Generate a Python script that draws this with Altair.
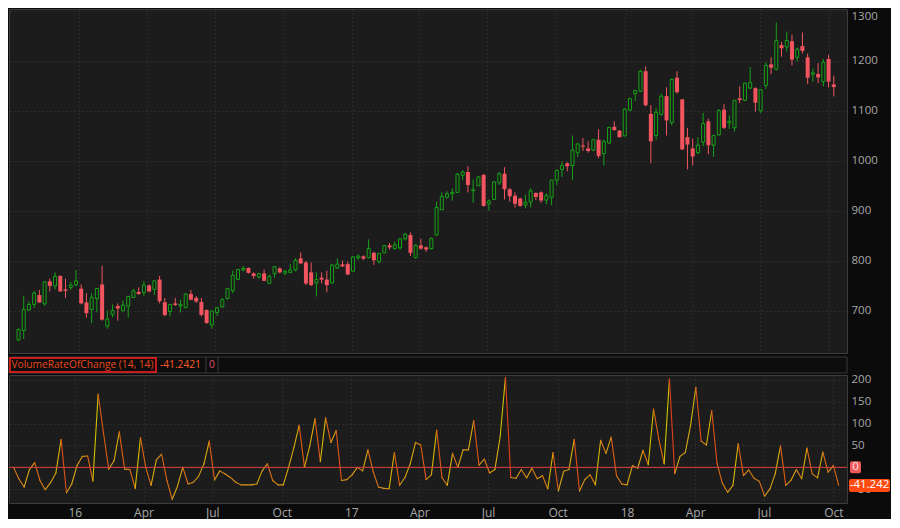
import altair as alt
import pandas as pd

# ---------------- data (weekly candles) ----------------
first_week = "2015-10-12"
opens = [642, 661, 702, 713, 731.6, 714, 759, 750, 770, 743, 747, 752, 744.5, 717, 703, 724.5, 752.9, 669.7, 693, 709.7,
         700, 709.7, 727, 738, 737, 751, 743, 762.6, 717.4, 698.7, 715, 709.7, 706.5, 734, 726, 718, 702, 672, 697, 708,
         724.5, 741, 763, 782, 785.8, 775, 767.7, 775, 755, 774.5, 785, 775.5, 777, 782, 805, 796.8, 777, 756, 766.5, 762.6,
         756, 785.8, 792.9, 793.5, 779.4, 806.5, 809, 806.5, 816, 798, 816, 831, 824.5, 826, 844, 851.6, 806.5, 831, 827, 824.5,
         851.6, 902, 927, 934, 936.8, 971, 977.4, 940, 950, 971.6, 914, 922.6, 956, 974, 943, 930, 924.5, 911.6, 917.4, 935.5,
         936.8, 921.3, 927, 961.3, 982.6, 994.8, 990.3, 1016, 1030.3, 1024.5, 1021.3, 1042, 1014.2, 1035.5, 1067.7, 1060, 1049.7, 1101, 1134, 1138.7,
         1178.7, 1093.5, 1050.3, 1092.3, 1129, 1076, 1165.8, 1122.6, 1047.1, 1024.5, 1016, 1037.4, 1078.7, 1030.9, 1051.6, 1101.9, 1075.5, 1065.8, 1124.5, 1120.6,
         1145, 1145, 1100, 1150.3, 1192.3, 1182.6, 1231, 1227, 1238.7, 1206.5, 1229, 1206.5, 1172.9, 1173, 1158, 1203.2, 1152.3]
highs = [665, 730, 719, 740, 742, 759, 764.5, 777, 771, 764.5, 758, 782, 753, 735.5, 735.5, 745, 790, 701, 713, 715,
         721, 729, 744, 747, 759, 753, 761, 770, 726, 713, 726, 722.6, 735.5, 742, 730, 726, 703, 700, 707.7, 726,
         744.5, 780.6, 784, 790, 787, 777, 775.5, 783, 773, 790, 787, 782, 793.5, 805, 817, 800, 796.8, 777, 777, 780.6,
         793.5, 805, 800.6, 798.7, 809.7, 812.9, 811, 843, 818, 814.8, 832, 835.5, 838.7, 845, 855, 857, 833.5, 844, 829, 846.5,
         918, 936.8, 938.7, 945, 975.5, 980.6, 989, 962.6, 969, 974, 922.6, 958, 977.4, 987, 945, 936.8, 925.8, 932, 945, 936.8,
         938.7, 935.5, 961.3, 982.6, 998.7, 996.8, 1050.3, 1035.5, 1045, 1038.7, 1043, 1063, 1042, 1067.7, 1078.7, 1061.3, 1105, 1125.8, 1142, 1181.9,
         1188.4, 1110.9, 1105, 1134, 1146.5, 1164.5, 1178.7, 1122.6, 1065.8, 1043.9, 1047, 1095.5, 1083.9, 1050.3, 1103.2, 1112.9, 1090.3, 1120.6, 1148.4, 1156,
         1187, 1146.5, 1141.9, 1196.8, 1206.5, 1276, 1237.4, 1258, 1251.6, 1225.8, 1256, 1214.2, 1183.9, 1195, 1203.2, 1211.6, 1169.7]
lows = [640, 644, 700, 706, 716, 711, 739, 743, 738, 726, 742, 749, 713, 687, 676, 697, 680.6, 664.5, 687, 680.6,
        700, 687, 727, 732, 729, 737, 732, 715, 689, 689, 710, 697, 706.5, 721, 716, 689, 674, 664.5, 690, 706.5,
        723, 735.5, 763, 779, 774.5, 764.5, 764.5, 760, 755, 766.5, 775, 771, 775.5, 779, 793.5, 751.6, 749.7, 729, 755, 737.4,
        755, 784, 787.7, 771, 777.4, 801.9, 801.9, 805, 792, 795, 816, 822.6, 822.6, 822.6, 840.6, 809.7, 804.5, 822.6, 818, 822.6,
        850, 902, 924.5, 920, 935.5, 961.3, 936.8, 916, 949.7, 908.4, 900, 922, 951.6, 922.6, 918, 906.5, 908.4, 905.2, 906.5, 921.3,
        916, 913, 911, 951.6, 967.7, 979, 961.3, 1007.7, 1019.4, 1016, 1019, 1005, 990.3, 1033.5, 1060, 1046.5, 1048.4, 1099, 1119.4, 1136.8,
        1108.4, 994.8, 1042, 1090.3, 1050.3, 1071, 1134.2, 1021.3, 982.6, 990.3, 1012.9, 1029, 1012.9, 1007.7, 1050.3, 1063.2, 1063.2, 1058, 1115, 1119.4,
        1143.2, 1098, 1095.5, 1143.2, 1172.9, 1180.6, 1207.7, 1218, 1190.3, 1198, 1214.2, 1153.5, 1158, 1154.8, 1148.4, 1146.5, 1128.4]
closes = [663, 703, 713, 735.5, 717, 758, 750, 769, 739, 740, 751.6, 760, 715, 695.5, 727, 745, 682.6, 684, 701, 705,
          711.6, 729, 740, 734, 751.6, 739, 760, 719.4, 692, 713, 712, 713, 733.5, 722.6, 719, 692, 676, 700, 706.5, 722.6,
          744.5, 771, 782.6, 785, 776, 770, 774.5, 760, 769, 788.4, 777, 779.4, 782, 801.3, 795, 754.8, 751.6, 762.6, 762.6, 751.6,
          791.6, 793.5, 789, 773, 807.7, 809.7, 804.5, 824.5, 801.3, 814.8, 830.3, 827, 832, 844, 853.5, 816, 831, 824.5, 822.6, 845,
          906.5, 929, 934, 936.8, 973, 977.4, 951.6, 942, 967.7, 909.7, 919.4, 958, 974, 943, 929, 914, 909.7, 917.4, 940, 927.7,
          920.6, 930.3, 961.3, 980.6, 990.3, 989, 1021.3, 1033.5, 1028, 1019.4, 1042, 1009.7, 1038.7, 1066.5, 1061.3, 1047, 1103, 1123.9, 1140, 1178.7,
          1110.9, 1038.7, 1096.8, 1129, 1080.6, 1162.6, 1136.8, 1022.6, 1032.3, 1008.4, 1030.9, 1074.2, 1030.9, 1050.3, 1100, 1065.8, 1078.7, 1120.6, 1121.3, 1154.8,
          1156, 1116, 1141.9, 1190.3, 1185.8, 1240, 1224.5, 1240, 1201.9, 1222.6, 1219.4, 1165.8, 1175.5, 1166.5, 1196.8, 1158, 1147]
vroc = [0, -26, -45, -5, 11, -30, -51, -35, -13, 64, -58, -38, 4, 25, 26, -31, 167, 79, -4, 15,
        81, -4, -5, -48, 68, 0, -41, 17, 30, -30, -73, -43, 0, -38, -34, -20, 8, 60, -29, -8,
        -15, -23, -34, -40, -40, -40, -38, -8, 8, -30, -40, -40, 0, 45, 96, 0, 49, 111, 13, 113,
        57, 84, -30, -28, -17, 0, -8, 40, -10, -45, -48, -49, 34, -41, -23, 8, 57, 51, -28, -17,
        85, -23, -41, 32, 0, 40, 40, 107, 5, 19, -13, -5, 70, 206, -23, -25, -5, -24, -2, -26,
        -19, -49, 34, -54, -9, -5, 64, -54, -28, -17, -40, 62, 32, 69, -19, -38, -40, 4, -2, 39,
        6, 133, 64, 8, 202, -14, 25, 34, 96, 183, 60, 51, 130, 9, -36, -57, -41, 54, -19, -6,
        -25, -32, -66, -49, -15, 49, -41, -29, -5, -26, 44, -15, -24, 35, -11, 4, -41.2421]

price_ticks = [700, 800, 900, 1000, 1100, 1200, 1300]
vroc_ticks = [-50, 0, 50, 100, 150, 200]
quarter_ticks = ["2016-01-01", "2016-04-01", "2016-07-01", "2016-10-01", "2017-01-01", "2017-04-01",
                 "2017-07-01", "2017-10-01", "2018-01-01", "2018-04-01", "2018-07-01", "2018-10-01"]
x_range = ["2015-10-06", "2018-10-19"]
price_range = [616, 1303]
vroc_range = [-81.4, 211]
study_name = "VolumeRateOfChange (14, 14)"
study_zero = 0

# ---------------- styling ----------------
W, H1, H2 = 838, 344, 128
BG = "#0b0b0b"
PLOT = "#1c1c1c"
GRID = "#3b3b3b"
GREEN = "#16a316"
RED = "#f2555f"
LABEL = "#a8a8a8"
FONT = "Open Sans"


def ms(s):
    return int(pd.Timestamp(s).value // 1_000_000)


dates = pd.date_range(first_week, periods=len(opens), freq="7D").strftime("%Y-%m-%d")
cdf = pd.DataFrame({"date": dates, "open": opens, "high": highs, "low": lows, "close": closes})
cdf["dir"] = ["up" if c >= o else "down" for o, c in zip(opens, closes)]

# line segments of the study (each segment coloured by its direction of change)
sdf = pd.DataFrame({
    "date": dates[:-1], "date2": dates[1:],
    "v": vroc[:-1], "v2": vroc[1:],
})
sdf["slope"] = sdf["v2"] - sdf["v"]

xscale = alt.Scale(type="utc", domain=[ms(x_range[0]), ms(x_range[1])])
qt = [ms(q) for q in quarter_ticks]

x_main = alt.X("date:T", scale=xscale,
               axis=alt.Axis(values=qt, labels=False, ticks=False, domain=False, grid=True,
                             gridColor=GRID, gridDash=[1, 3], title=None))
pscale = alt.Scale(domain=price_range, zero=False, nice=False)
paxis = alt.Axis(orient="right", values=price_ticks, format="d", title=None, ticks=False, domain=False,
                 grid=True, gridColor=GRID, gridDash=[1, 3], labelFlush=4, labelPadding=4)

base = alt.Chart(cdf)
wicks = base.mark_rule(strokeWidth=1).encode(
    x=x_main,
    y=alt.Y("low:Q", scale=pscale, axis=paxis),
    y2="high:Q",
    color=alt.Color("dir:N", scale=alt.Scale(domain=["up", "down"], range=[GREEN, RED]), legend=None),
)
up_bodies = base.transform_filter("datum.dir == 'up'").mark_bar(
    size=3, fill=PLOT, stroke=GREEN, strokeWidth=1
).encode(x=x_main, y=alt.Y("open:Q", scale=pscale, axis=paxis), y2="close:Q")
down_bodies = base.transform_filter("datum.dir == 'down'").mark_bar(
    size=4, color=RED
).encode(x=x_main, y=alt.Y("open:Q", scale=pscale, axis=paxis), y2="close:Q")

main = alt.layer(wicks, up_bodies, down_bodies).properties(width=W, height=H1)

# ---------------- lower panel ----------------
x_low = alt.X("date:T", scale=xscale,
              axis=alt.Axis(values=qt, ticks=False, domain=False, grid=True, gridColor=GRID,
                            gridDash=[1, 3], title=None, labelOverlap=False, labelPadding=4,
                            labelFontSize=12,
                            labelExpr="utcFormat(datum.value, utcmonth(datum.value) == 0 ? '%y' : '%b')"))
vscale = alt.Scale(domain=vroc_range, zero=False, nice=False)
vaxis = alt.Axis(orient="right", values=vroc_ticks, format="d", title=None, ticks=False, domain=False,
                 grid=True, gridColor=GRID, gridDash=[1, 3], labelPadding=4)

last_val = vroc[-1]
zdf = pd.DataFrame({"v": [study_zero]})
ldf = pd.DataFrame({"v": [last_val]})

segs = alt.Chart(sdf).mark_rule(strokeWidth=1.1, strokeCap="round").encode(
    x=x_low, x2="date2:T",
    y=alt.Y("v:Q", scale=vscale, axis=vaxis), y2="v2:Q",
    color=alt.Color("slope:Q", legend=None, scale=alt.Scale(
        domain=[-160, -40, 0, 40, 160],
        range=["#e0401a", "#dc6c16", "#d8901a", "#d8a812", "#cfc400"], clamp=True)),
)
zero_line = alt.Chart(zdf).mark_rule(color="#d8403f", strokeWidth=1).encode(
    y=alt.Y("v:Q", scale=vscale, axis=vaxis))

zero_box = alt.Chart(zdf).mark_rect(fill="#f0585c", cornerRadius=2, yOffset=-6, y2Offset=6).encode(
    x=alt.value(W + 3), x2=alt.value(W + 14), y=alt.Y("v:Q", scale=vscale, axis=vaxis), y2="v:Q")
zero_txt = alt.Chart(zdf).mark_text(font=FONT, fontSize=11.5, color="#ffe4e4", align="center",
                                    baseline="middle", text=str(study_zero)).encode(
    x=alt.value(W + 8.5), y=alt.Y("v:Q", scale=vscale, axis=vaxis))
last_box = alt.Chart(ldf).mark_rect(fill="#ff4a12", cornerRadius=2, yOffset=-6.5, y2Offset=6.5).encode(
    x=alt.value(W + 2), x2=alt.value(W + 43), y=alt.Y("v:Q", scale=vscale, axis=vaxis), y2="v:Q")
last_txt = alt.Chart(ldf).mark_text(font=FONT, fontSize=11.5, color="#ffffff", align="center",
                                    baseline="middle", text=f"{last_val:.3f}").encode(
    x=alt.value(W + 22.5), y=alt.Y("v:Q", scale=vscale, axis=vaxis))

# header strip of the study panel (drawn above the lower plot)
hdf = pd.DataFrame({"a": [0]})
hbar = alt.Chart(hdf).mark_rect(fill="#0d0d0d", stroke="#3a3a3a", strokeWidth=1).encode(
    x=alt.value(0), x2=alt.value(W), y=alt.value(-18), y2=alt.value(-2))
hbox = alt.Chart(hdf).mark_rect(fill="transparent", stroke="#ff2020", strokeWidth=1.5).encode(
    x=alt.value(1), x2=alt.value(147), y=alt.value(-17), y2=alt.value(-3))
htxt1 = alt.Chart(hdf).mark_text(font=FONT, fontSize=10.2, color="#e8481e", align="left",
                                 baseline="middle", text=study_name).encode(
    x=alt.value(2.5), y=alt.value(-10))
htxt2 = alt.Chart(hdf).mark_text(font=FONT, fontSize=10.2, color="#ff5a2a", align="left",
                                 baseline="middle", text=f"{last_val:.4f}").encode(
    x=alt.value(151), y=alt.value(-10))
hsep1 = alt.Chart(hdf).mark_rule(color="#3a3a3a", strokeWidth=1).encode(
    x=alt.value(197), y=alt.value(-18), y2=alt.value(-2))
htxt3 = alt.Chart(hdf).mark_text(font=FONT, fontSize=10.2, color="#e0506a", align="center",
                                 baseline="middle", text=str(study_zero)).encode(
    x=alt.value(203), y=alt.value(-10))
hsep2 = alt.Chart(hdf).mark_rule(color="#3a3a3a", strokeWidth=1).encode(
    x=alt.value(209), y=alt.value(-18), y2=alt.value(-2))

lower = alt.layer(
    segs, zero_line, zero_box, zero_txt, last_box, last_txt,
    hbar, hbox, htxt1, htxt2, hsep1, htxt3, hsep2
).resolve_scale(color="independent").properties(width=W, height=H2)

chart = alt.vconcat(main, lower, spacing=22, bounds="flush").properties(
    padding=0, background=BG
).configure_view(
    fill=PLOT, stroke="#3d3d3d", strokeWidth=1
).configure_axis(
    labelFont=FONT, labelFontSize=11.5, labelColor=LABEL
)

chart.save("out.html", embed_options={"renderer": "svg", "actions": False})
